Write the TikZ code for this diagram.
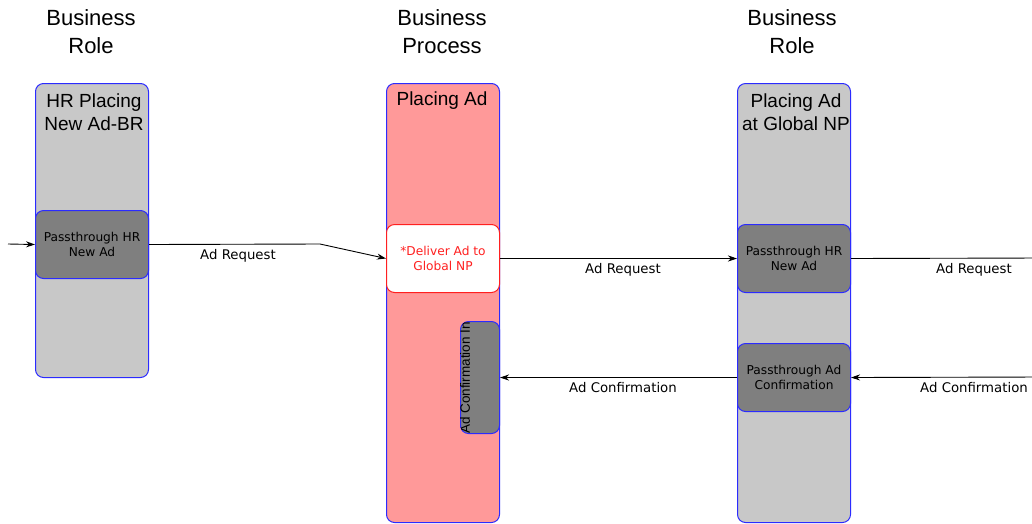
\documentclass[tikz,border=0pt]{standalone}
\usepackage{fontspec}
\setmainfont{Liberation Sans}
\newfontfamily\dvs{DejaVu Sans}
\usetikzlibrary{arrows.meta}
\definecolor{lanegray}{HTML}{C8C8C8}
\definecolor{boxgray}{HTML}{7F7F7F}
\definecolor{lanepink}{HTML}{FF9999}
\definecolor{laneblue}{HTML}{2B2BFF}
\definecolor{boxred}{HTML}{FF2020}
\tikzset{
  lane/.style={draw=laneblue, line width=1pt, rounded corners=8pt, minimum width=113pt, anchor=north west, inner sep=0pt},
  ibox/.style={draw=laneblue, line width=1pt, rounded corners=8pt, fill=boxgray, minimum width=113pt, minimum height=68pt, anchor=north west, inner sep=0pt},
  coltitle/.style={align=center, font=\fontsize{22}{28}\selectfont},
  lanetitle/.style={align=center, font=\fontsize{19}{23}\selectfont},
  boxtext/.style={align=center, font=\dvs\fontsize{12.2}{15}\selectfont},
  conn/.style={line width=0.9pt, -{Stealth[length=9pt,width=6pt]}},
  clabel/.style={font=\dvs\fontsize{13.3}{15}\selectfont, anchor=north, inner sep=0pt}
}
\begin{document}
\begin{tikzpicture}[x=1pt,y=-1pt]
\useasboundingbox (0,0) rectangle (1032,523);
\clip (0,0) rectangle (1032,523);
% column titles
\node[coltitle] (ct1) at (91,32) {Business\\Role};
\node[coltitle] (ct2) at (442,32) {Business\\Process};
\node[coltitle] (ct3) at (792,32) {Business\\Role};
% lanes
\node[lane, fill=lanegray, minimum height=294pt] (l1) at (35,83) {};
\node[lane, fill=lanepink, minimum height=439pt] (l2) at (386,83) {};
\node[lane, fill=lanegray, minimum height=439pt] (l3) at (737,83) {};
\node[lanetitle] (lt1) at (94,112) {HR Placing\\ New Ad-BR};
\node[lanetitle] (lt2) at (442,101) {Placing Ad};
\node[lanetitle] (lt3) at (796,112) {Placing Ad\\at Global NP};
% inner boxes
\node[ibox] (b1) at (35,210) {};
\node[boxtext] at (b1.center) {Passthrough HR\\New Ad};
\node[ibox, fill=white, draw=boxred] (dl) at (386,224) {};
\node[boxtext, text=boxred] at (dl.center) {*Deliver Ad to\\ Global NP};
\node[ibox, minimum width=39pt, minimum height=112pt] (ci) at (460,321) {};
\begin{scope}
\clip[rounded corners=8pt] (ci.north west) rectangle (ci.south east);
\node[rotate=90, anchor=west, font=\fontsize{13.5}{15}\selectfont, inner sep=0pt] (cit) at (465,434) {Ad Confirmation In};
\end{scope}
\node[ibox] (b3a) at (737,224) {};
\node[boxtext] at (b3a.center) {Passthrough HR\\New Ad};
\node[ibox] (b3b) at (737,343) {};
\node[boxtext] at (b3b.center) {Passthrough Ad\\ Confirmation};
% connectors
\coordinate (in1) at (8,244);
\coordinate (bend1) at (320,244);
\coordinate (out1) at (1040,258);
\coordinate (in2) at (1040,377);
\draw[conn] (in1) -- (b1.west);
\draw[conn] (b1.east) -- (bend1) -- (dl.west);
\draw[conn] (dl.east) -- (b3a.west);
\draw[line width=0.9pt] (b3a.east) -- (out1);
\draw[conn] (in2) -- (b3b.east);
\draw[conn] (b3b.west) -- (ci.east);
% labels
\node[clabel] (lab1) at (238,249) {Ad Request};
\node[clabel] (lab2) at (623,263) {Ad Request};
\node[clabel] (lab3) at (974,263) {Ad Request};
\node[clabel] (lab4) at (623,382) {Ad Confirmation};
\node[clabel] (lab5) at (974,382) {Ad Confirmation};
\end{tikzpicture}
\end{document}
